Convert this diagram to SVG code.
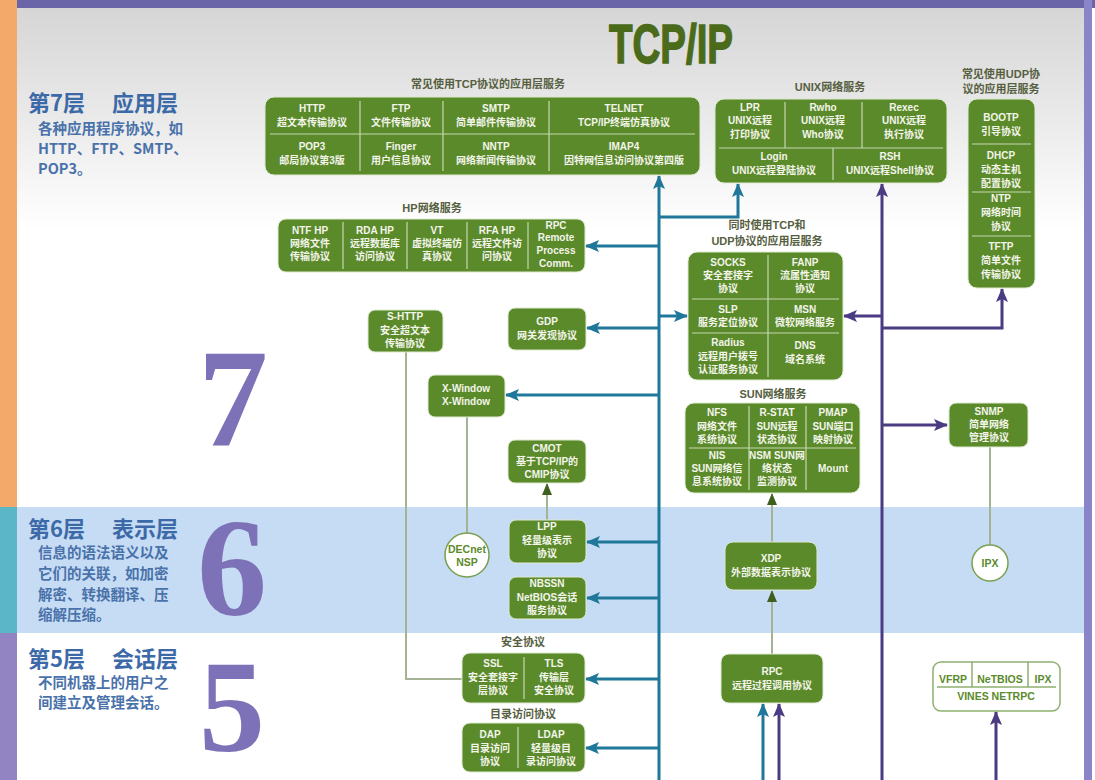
<svg xmlns="http://www.w3.org/2000/svg" width="1095" height="780" viewBox="0 0 1095 780">
<defs>
<linearGradient id="bg" x1="0" y1="0" x2="0" y2="1">
<stop offset="0" stop-color="#d4d4d4"/>
<stop offset="1" stop-color="#ffffff"/>
</linearGradient>
<marker id="aT" viewBox="0 0 14 12" refX="13" refY="6" markerWidth="14" markerHeight="12" markerUnits="userSpaceOnUse" orient="auto"><path d="M0,0 L14,6 L0,12 L3,6 z" fill="#1f7799"/></marker>
<marker id="aP" viewBox="0 0 14 12" refX="13" refY="6" markerWidth="14" markerHeight="12" markerUnits="userSpaceOnUse" orient="auto"><path d="M0,0 L14,6 L0,12 L3,6 z" fill="#4b3b82"/></marker>
<marker id="aG" viewBox="0 0 12 10" refX="11" refY="5" markerWidth="12" markerHeight="10" markerUnits="userSpaceOnUse" orient="auto"><path d="M0,0 L12,5 L0,10 z" fill="#3f5f1f"/></marker>
<style>
.n{fill:#5b8a2b;stroke:#dfe9d2;stroke-width:1}
.d{stroke:#c6d8b0;stroke-width:1.2;fill:none}
.t{font-family:"Liberation Sans","Noto Sans CJK SC",sans-serif;font-size:10px;font-weight:bold;fill:#f3f5ea;text-anchor:middle}
.g{font-family:"Liberation Sans","Noto Sans CJK SC",sans-serif;font-size:11px;font-weight:bold;fill:#56603f;text-anchor:middle}
.lh{font-family:"Noto Sans CJK SC","Liberation Sans",sans-serif;font-size:22px;font-weight:bold;fill:#3c6aa8}
.ls{font-family:"Noto Sans CJK SC","Liberation Sans",sans-serif;font-size:14.5px;font-weight:bold;fill:#4a72aa}
.big{font-family:"Liberation Serif",serif;font-size:140px;font-weight:bold;fill:#7d72b8;text-anchor:middle}
.ct{font-family:"Liberation Sans","Noto Sans CJK SC",sans-serif;font-size:10.5px;font-weight:bold;fill:#5b8a2b;text-anchor:middle}
.tl{stroke:#1f7799;stroke-width:3;fill:none}
.pl{stroke:#4b3b82;stroke-width:3;fill:none}
.gl{stroke:#a3b394;stroke-width:2;fill:none}
</style>
</defs>

<!-- background -->
<rect x="0" y="0" width="1095" height="780" fill="#ffffff"/>
<rect x="17" y="0" width="1068" height="230" fill="url(#bg)"/>
<rect x="17" y="507" width="1068" height="126" fill="#c6dcf4"/>
<rect x="0" y="0" width="1095" height="8" fill="#6a64a8"/>
<rect x="0" y="0" width="17" height="507" fill="#f3a96a"/>
<rect x="0" y="507" width="17" height="126" fill="#5bb6c8"/>
<rect x="0" y="633" width="17" height="147" fill="#9284c2"/>
<rect x="1084" y="0" width="8" height="780" fill="#8a84c8"/>

<!-- title -->
<text x="609" y="63" font-family="Liberation Sans, sans-serif" font-weight="bold" font-size="56" fill="#4a6b1a" stroke="#4a6b1a" stroke-width="1.5" textLength="124" lengthAdjust="spacingAndGlyphs">TCP/IP</text>

<!-- layer texts -->
<g id="layer7">
<text class="lh" x="28" y="111">第7层</text><text class="lh" x="112" y="111">应用层</text>
<text class="ls" x="38" y="134">各种应用程序协议，如</text>
<text class="ls" x="38" y="154">HTTP、FTP、SMTP、</text>
<text class="ls" x="38" y="174">POP3。</text>
<text class="big" x="233" y="445">7</text>
</g>
<g id="layer6">
<text class="lh" x="28" y="537">第6层</text><text class="lh" x="112" y="537">表示层</text>
<text class="ls" x="38" y="558">信息的语法语义以及</text>
<text class="ls" x="38" y="579">它们的关联，如加密</text>
<text class="ls" x="38" y="600">解密、转换翻译、压</text>
<text class="ls" x="38" y="620">缩解压缩。</text>
<text class="big" x="232" y="615">6</text>
</g>
<g id="layer5">
<text class="lh" x="28" y="667">第5层</text><text class="lh" x="112" y="667">会话层</text>
<text class="ls" x="38" y="688">不同机器上的用户之</text>
<text class="ls" x="38" y="708">间建立及管理会话。</text>
<text class="big" x="232" y="751" style="font-size:132px">5</text>
</g>

<!-- connectors -->
<g id="connectors">
<path class="gl" d="M406,352 V679 H462"/>
<path class="gl" d="M467,417 V533"/>
<path class="gl" d="M990,447 V545"/>
<path class="gl" d="M547,520 V484" marker-end="url(#aG)"/>
<path class="gl" d="M772,542 V494" marker-end="url(#aG)"/>
<path class="gl" d="M772,654 V591" marker-end="url(#aG)"/>

<path class="tl" d="M659,780 V176" marker-end="url(#aT)"/>
<path class="tl" d="M659,217 H738 V184" marker-end="url(#aT)"/>
<path class="tl" d="M659,246 H586" marker-end="url(#aT)"/>
<path class="tl" d="M659,328 H587" marker-end="url(#aT)"/>
<path class="tl" d="M659,395 H506" marker-end="url(#aT)"/>
<path class="tl" d="M659,316 H687" marker-end="url(#aT)"/>
<path class="tl" d="M659,542 H587" marker-end="url(#aT)"/>
<path class="tl" d="M659,598 H587" marker-end="url(#aT)"/>
<path class="tl" d="M659,679 H586" marker-end="url(#aT)"/>
<path class="tl" d="M659,748 H586" marker-end="url(#aT)"/>
<path class="tl" d="M763,780 V704" marker-end="url(#aT)"/>

<path class="pl" d="M882,780 V184" marker-end="url(#aP)"/>
<path class="pl" d="M882,316 H844" marker-end="url(#aP)"/>
<path class="pl" d="M882,328 H1002 V289" marker-end="url(#aP)"/>
<path class="pl" d="M882,425 H947" marker-end="url(#aP)"/>
<path class="pl" d="M779,780 V704" marker-end="url(#aP)"/>
<path class="pl" d="M996,780 V712" marker-end="url(#aP)"/>
</g>

<!-- TCP app services -->
<g id="tcp-apps">
<text class="g" x="488" y="88">常见使用TCP协议的应用层服务</text>
<rect class="n" x="265" y="97" width="435" height="78" rx="9"/>
<path class="d" d="M270,134 H695 M360,101 V171 M443,101 V171 M549,101 V171"/>
<text class="t" x="312" y="112">HTTP</text><text class="t" x="312" y="126">超文本传输协议</text>
<text class="t" x="401" y="112">FTP</text><text class="t" x="401" y="126">文件传输协议</text>
<text class="t" x="496" y="112">SMTP</text><text class="t" x="496" y="126">简单邮件传输协议</text>
<text class="t" x="624" y="112">TELNET</text><text class="t" x="624" y="126">TCP/IP终端仿真协议</text>
<text class="t" x="312" y="150">POP3</text><text class="t" x="312" y="164">邮局协议第3版</text>
<text class="t" x="401" y="150">Finger</text><text class="t" x="401" y="164">用户信息协议</text>
<text class="t" x="496" y="150">NNTP</text><text class="t" x="496" y="164">网络新闻传输协议</text>
<text class="t" x="624" y="150">IMAP4</text><text class="t" x="624" y="164">因特网信息访问协议第四版</text>
</g>

<!-- UNIX -->
<g id="unix">
<text class="g" x="830" y="91">UNIX网络服务</text>
<rect class="n" x="715" y="99" width="232" height="84" rx="9"/>
<path class="d" d="M719,148 H943 M785,102 V148 M862,102 V148 M833,148 V180"/>
<text class="t" x="750" y="111">LPR</text><text class="t" x="750" y="124">UNIX远程</text><text class="t" x="750" y="138">打印协议</text>
<text class="t" x="823" y="111">Rwho</text><text class="t" x="823" y="124">UNIX远程</text><text class="t" x="823" y="138">Who协议</text>
<text class="t" x="904" y="111">Rexec</text><text class="t" x="904" y="124">UNIX远程</text><text class="t" x="904" y="138">执行协议</text>
<text class="t" x="774" y="160">Login</text><text class="t" x="774" y="174">UNIX远程登陆协议</text>
<text class="t" x="890" y="160">RSH</text><text class="t" x="890" y="174">UNIX远程Shell协议</text>
</g>

<!-- UDP -->
<g id="udp-apps">
<text class="g" x="1001" y="78">常见使用UDP协</text>
<text class="g" x="1001" y="93">议的应用层服务</text>
<rect class="n" x="968" y="99" width="67" height="189" rx="9"/>
<path class="d" d="M972,144 H1031 M972,192 H1031 M972,236 H1031"/>
<text class="t" x="1001" y="121">BOOTP</text><text class="t" x="1001" y="135">引导协议</text>
<text class="t" x="1001" y="159">DHCP</text><text class="t" x="1001" y="173">动态主机</text><text class="t" x="1001" y="187">配置协议</text>
<text class="t" x="1001" y="202">NTP</text><text class="t" x="1001" y="216">网络时间</text><text class="t" x="1001" y="230">协议</text>
<text class="t" x="1001" y="250">TFTP</text><text class="t" x="1001" y="264">简单文件</text><text class="t" x="1001" y="278">传输协议</text>
</g>

<!-- HP -->
<g id="hp">
<text class="g" x="432" y="212">HP网络服务</text>
<rect class="n" x="278" y="219" width="307" height="53" rx="8"/>
<path class="d" d="M343,222 V269 M407,222 V269 M467,222 V269 M528,222 V269"/>
<text class="t" x="310" y="234">NTF HP</text><text class="t" x="310" y="247">网络文件</text><text class="t" x="310" y="260">传输协议</text>
<text class="t" x="375" y="234">RDA HP</text><text class="t" x="375" y="247">远程数据库</text><text class="t" x="375" y="260">访问协议</text>
<text class="t" x="437" y="234">VT</text><text class="t" x="437" y="247">虚拟终端仿</text><text class="t" x="437" y="260">真协议</text>
<text class="t" x="497" y="234">RFA HP</text><text class="t" x="497" y="247">远程文件访</text><text class="t" x="497" y="260">问协议</text>
<text class="t" x="556" y="229">RPC</text><text class="t" x="556" y="241">Remote</text><text class="t" x="556" y="254">Process</text><text class="t" x="556" y="267">Comm.</text>
</g>

<!-- TCP and UDP -->
<g id="tcp-udp">
<text class="g" x="767" y="229">同时使用TCP和</text>
<text class="g" x="767" y="245">UDP协议的应用层服务</text>
<rect class="n" x="688" y="252" width="155" height="128" rx="9"/>
<path class="d" d="M768,255 V377 M692,299 H839 M692,333 H839"/>
<text class="t" x="728" y="266">SOCKS</text><text class="t" x="728" y="279">安全套接字</text><text class="t" x="728" y="292">协议</text>
<text class="t" x="805" y="266">FANP</text><text class="t" x="805" y="279">流属性通知</text><text class="t" x="805" y="292">协议</text>
<text class="t" x="728" y="313">SLP</text><text class="t" x="728" y="326">服务定位协议</text>
<text class="t" x="805" y="313">MSN</text><text class="t" x="805" y="326">微软网络服务</text>
<text class="t" x="728" y="346">Radius</text><text class="t" x="728" y="360">远程用户拨号</text><text class="t" x="728" y="373">认证服务协议</text>
<text class="t" x="805" y="349">DNS</text><text class="t" x="805" y="363">域名系统</text>
</g>

<!-- SUN -->
<g id="sun">
<text class="g" x="773" y="398">SUN网络服务</text>
<rect class="n" x="685" y="403" width="175" height="90" rx="9"/>
<path class="d" d="M689,448 H856 M749,406 V490 M806,406 V490"/>
<text class="t" x="717" y="416">NFS</text><text class="t" x="717" y="430">网络文件</text><text class="t" x="717" y="443">系统协议</text>
<text class="t" x="777" y="416">R-STAT</text><text class="t" x="777" y="430">SUN远程</text><text class="t" x="777" y="443">状态协议</text>
<text class="t" x="833" y="416">PMAP</text><text class="t" x="833" y="430">SUN端口</text><text class="t" x="833" y="443">映射协议</text>
<text class="t" x="717" y="459">NIS</text><text class="t" x="717" y="472">SUN网络信</text><text class="t" x="717" y="485">息系统协议</text>
<text class="t" x="777" y="459">NSM SUN网</text><text class="t" x="777" y="472">络状态</text><text class="t" x="777" y="485">监测协议</text>
<text class="t" x="833" y="472">Mount</text>
</g>

<g id="shttp">
<rect class="n" x="368" y="310" width="75" height="42" rx="7"/>
<text class="t" x="405" y="320">S-HTTP</text><text class="t" x="405" y="334">安全超文本</text><text class="t" x="405" y="347">传输协议</text>
</g>
<g id="gdp">
<rect class="n" x="508" y="308" width="78" height="42" rx="7"/>
<text class="t" x="547" y="325">GDP</text><text class="t" x="547" y="339">网关发现协议</text>
</g>
<g id="xwindow">
<rect class="n" x="428" y="375" width="77" height="42" rx="7"/>
<text class="t" x="466" y="392">X-Window</text><text class="t" x="466" y="405">X-Window</text>
</g>
<g id="cmot">
<rect class="n" x="508" y="440" width="78" height="43" rx="7"/>
<text class="t" x="547" y="452">CMOT</text><text class="t" x="547" y="465">基于TCP/IP的</text><text class="t" x="547" y="478">CMIP协议</text>
</g>
<g id="decnet">
<circle cx="467" cy="555" r="22" fill="#ffffff" stroke="#7aa050" stroke-width="1.5"/>
<text class="ct" x="467" y="553">DECnet</text><text class="ct" x="467" y="566">NSP</text>
</g>
<g id="lpp">
<rect class="n" x="509" y="520" width="77" height="43" rx="7"/>
<text class="t" x="547" y="530">LPP</text><text class="t" x="547" y="544">轻量级表示</text><text class="t" x="547" y="557">协议</text>
</g>
<g id="nbssn">
<rect class="n" x="509" y="577" width="77" height="42" rx="7"/>
<text class="t" x="547" y="587">NBSSN</text><text class="t" x="547" y="601">NetBIOS会话</text><text class="t" x="547" y="614">服务协议</text>
</g>
<g id="ssl-tls">
<text class="g" x="523" y="646">安全协议</text>
<rect class="n" x="462" y="653" width="123" height="50" rx="8"/>
<path class="d" d="M524,657 V699"/>
<text class="t" x="493" y="667">SSL</text><text class="t" x="493" y="681">安全套接字</text><text class="t" x="493" y="694">层协议</text>
<text class="t" x="554" y="667">TLS</text><text class="t" x="554" y="681">传输层</text><text class="t" x="554" y="694">安全协议</text>
</g>
<g id="dap-ldap">
<text class="g" x="523" y="718">目录访问协议</text>
<rect class="n" x="462" y="723" width="123" height="49" rx="8"/>
<path class="d" d="M518,727 V768"/>
<text class="t" x="490" y="738">DAP</text><text class="t" x="490" y="752">目录访问</text><text class="t" x="490" y="765">协议</text>
<text class="t" x="551" y="738">LDAP</text><text class="t" x="551" y="752">轻量级目</text><text class="t" x="551" y="765">录访问协议</text>
</g>
<g id="xdp">
<rect class="n" x="725" y="542" width="92" height="48" rx="8"/>
<text class="t" x="771" y="562">XDP</text><text class="t" x="771" y="576">外部数据表示协议</text>
</g>
<g id="rpc">
<rect class="n" x="721" y="654" width="102" height="49" rx="8"/>
<text class="t" x="772" y="675">RPC</text><text class="t" x="772" y="689">远程过程调用协议</text>
</g>
<g id="snmp">
<rect class="n" x="949" y="403" width="79" height="44" rx="7"/>
<text class="t" x="989" y="415">SNMP</text><text class="t" x="989" y="428">简单网络</text><text class="t" x="989" y="441">管理协议</text>
</g>
<g id="ipx">
<circle cx="990" cy="563" r="18" fill="#ffffff" stroke="#7aa050" stroke-width="1.5"/>
<text class="ct" x="990" y="567">IPX</text>
</g>
<g id="vines">
<rect x="933" y="662" width="127" height="49" rx="8" fill="#ffffff" stroke="#8fb070" stroke-width="1.5"/>
<path d="M937,687 H1056 M972,662 V687 M1028,662 V687" stroke="#8fb070" stroke-width="1.5" fill="none"/>
<text class="ct" x="953" y="683">VFRP</text><text class="ct" x="1000" y="683">NeTBIOS</text><text class="ct" x="1043" y="683">IPX</text>
<text class="ct" x="996" y="700">VINES NETRPC</text>
</g>
</svg>
